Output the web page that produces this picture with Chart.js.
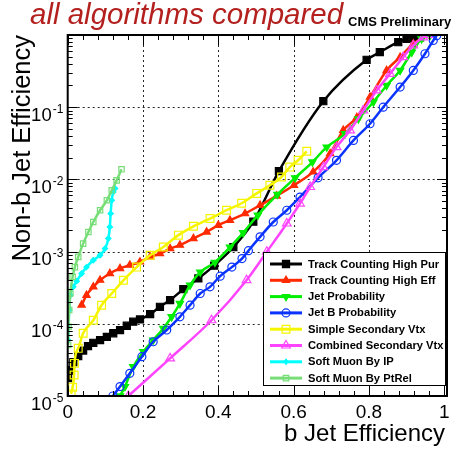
<!DOCTYPE html>
<html><head><meta charset="utf-8">
<script src="https://cdn.jsdelivr.net/npm/chart.js@4.4.0/dist/chart.umd.min.js"></script>
<style>html,body{margin:0;padding:0;background:#fff;}canvas{display:block;}</style>
</head><body>
<canvas id="c" width="458" height="450"></canvas>
<script>
// ---------- data ----------
const seriesLabels = ['Track Counting High Pur','Track Counting High Eff','Jet Probability','Jet B Probability','Simple Secondary Vtx','Combined Secondary Vtx','Soft Muon By IP','Soft Muon By PtRel'];

const tchpX = [0.001,0.006,0.015,0.028,0.041,0.054,0.068,0.086,0.104,0.121,0.139,0.157,0.174,0.192,0.219,0.245,0.272,0.307,0.347,0.389,0.440,0.493,0.561,0.679,0.794,0.829,0.878,0.900,0.918,0.936];
const tchpY = [1.77e-5,2.29e-5,2.95e-5,3.57e-5,4.26e-5,4.92e-5,5.46e-5,5.95e-5,6.6e-5,7.4e-5,8.2e-5,9.4e-5,1.07e-4,1.15e-4,1.36e-4,1.72e-4,2.13e-4,3.02e-4,4.25e-4,6.4e-4,1.15e-3,2.6e-3,1.3e-2,0.121,0.454,0.578,0.794,0.885,0.914,0.93];

const tcheX = [0.037,0.050,0.068,0.086,0.112,0.139,0.165,0.192,0.219,0.245,0.272,0.298,0.334,0.369,0.400,0.431,0.471,0.511,0.555,0.601,0.652,0.697,0.732,0.768,0.803,0.847,0.883,0.918,0.954];
const tcheY = [1.82e-4,2.49e-4,3.25e-4,4.02e-4,4.98e-4,5.84e-4,6.5e-4,7.2e-4,8.45e-4,9.4e-4,1.10e-3,1.23e-3,1.52e-3,1.87e-3,2.32e-3,2.72e-3,3.36e-3,4.39e-3,5.9e-3,8.3e-3,1.27e-2,2.28e-2,4.8e-2,7.2e-2,0.138,0.323,0.493,0.755,0.98];

const jpX = [0.139,0.152,0.174,0.201,0.227,0.254,0.276,0.298,0.325,0.352,0.391,0.431,0.466,0.505,0.557,0.604,0.650,0.688,0.737,0.772,0.812,0.847,0.883,0.914,0.940,0.962];
const jpY = [1.0e-5,1.35e-5,2.54e-5,4.1e-5,5.95e-5,8.6e-5,1.25e-4,1.91e-4,3.43e-4,5.2e-4,7.1e-4,1.15e-3,1.82e-3,3.2e-3,6.2e-3,1.05e-2,1.74e-2,2.8e-2,4.3e-2,6.9e-2,0.118,0.200,0.323,0.578,0.885,0.98];

const jbpX = [0.120,0.139,0.165,0.197,0.227,0.263,0.298,0.325,0.352,0.378,0.405,0.436,0.463,0.480,0.511,0.546,0.582,0.617,0.665,0.714,0.759,0.803,0.838,0.883,0.918,0.949,0.971,0.980];
const jbpY = [1.0e-5,1.35e-5,2.06e-5,3.5e-5,5.64e-5,8.2e-5,1.25e-4,1.81e-4,2.63e-4,3.25e-4,4.57e-4,6.1e-4,8.0e-4,1.03e-3,1.6e-3,2.57e-3,3.74e-3,5.7e-3,1.05e-2,1.84e-2,3.47e-2,5.9e-2,0.100,0.190,0.323,0.55,0.84,0.98];

const ssvX = [0.009,0.013,0.017,0.018,0.028,0.041,0.068,0.090,0.117,0.148,0.183,0.219,0.254,0.294,0.334,0.378,0.422,0.462,0.502,0.537,0.568,0.590,0.612,0.635];
const ssvY = [1.07e-5,1.32e-5,1.95e-5,2.83e-5,4.57e-5,7.4e-5,1.12e-4,1.81e-4,2.63e-4,4.0e-4,6.1e-4,8.9e-4,1.16e-3,1.69e-3,2.24e-3,2.87e-3,3.74e-3,4.67e-3,6.4e-3,8.3e-3,1.08e-2,1.48e-2,1.84e-2,2.45e-2];

const csvX = [0.161,0.272,0.382,0.475,0.529,0.582,0.617,0.644,0.679,0.714,0.750,0.785,0.821,0.856,0.891,0.918,0.944,0.957];
const csvY = [1.0e-5,3.32e-5,1.12e-4,4.02e-4,9.97e-4,2.45e-3,4.63e-3,7.85e-3,1.48e-2,2.8e-2,4.78e-2,9.0e-2,0.171,0.290,0.493,0.716,0.93,1.0];

const smipX = [0.001,0.004,0.007,0.015,0.024,0.037,0.050,0.068,0.086,0.099,0.108,0.112,0.114,0.117,0.121,0.126];
const smipY = [5.95e-5,1.55e-4,2.5e-4,3.25e-4,3.9e-4,4.98e-4,6.1e-4,7.6e-4,8.9e-4,1.10e-3,1.52e-3,2.2e-3,3.36e-3,5.14e-3,6.7e-3,7.5e-3];

const smptX = [0.001,0.002,0.004,0.007,0.013,0.019,0.028,0.041,0.055,0.068,0.086,0.104,0.117,0.130,0.143];
const smptY = [5.1e-5,9.1e-5,1.55e-4,2.63e-4,4.47e-4,6.1e-4,8.45e-4,1.29e-3,1.87e-3,2.57e-3,3.74e-3,5.14e-3,7.06e-3,9.7e-3,1.38e-2];

const xTickValues = [0,0.2,0.4,0.6,0.8,1];
const xTickLabels = ['0','0.2','0.4','0.6','0.8','1'];
const yTickValues = [1e-5,1e-4,1e-3,1e-2,1e-1];
const yTickBase = '10';
const yTickExponents = ['-5','-4','-3','-2','-1'];

const titleText = 'all algorithms compared';
const subTitleText = 'CMS Preliminary';
const xTitle = 'b Jet Efficiency';
const yTitle = 'Non-b Jet Efficiency';

// ---------- styles ----------
const seriesX = [tchpX,tcheX,jpX,jbpX,ssvX,csvX,smipX,smptX];
const seriesY = [tchpY,tcheY,jpY,jbpY,ssvY,csvY,smipY,smptY];
const styles = [
  {c:'#000000', ps:'rect', r:5, fill:true, rot:0, lw:2.5},
  {c:'#ff2a00', ps:'triangle', r:4.2, fill:true, rot:0, lw:2.5},
  {c:'#00ee00', ps:'triangle', r:4.2, fill:true, rot:180, lw:2.5},
  {c:'#0a33ff', ps:'circle', r:4, fill:false, rot:0, lw:2.5},
  {c:'#f5f500', ps:'rect', r:5.5, fill:false, rot:0, lw:2.5},
  {c:'#ff44ff', ps:'triangle', r:5, fill:false, rot:0, lw:2.5},
  {c:'#00ffff', ps:'rectRot', r:2.6, fill:true, rot:0, lw:2.5},
  {c:'#77dd77', ps:'rect', r:3.8, fill:false, rot:0, lw:2.5}
];

const datasets = seriesLabels.map((lab,i)=>({
  label: lab,
  data: seriesX[i].map((x,k)=>({x:x, y:seriesY[i][k]})),
  borderColor: styles[i].c,
  backgroundColor: styles[i].c,
  borderWidth: styles[i].lw,
  pointStyle: styles[i].ps,
  pointRadius: styles[i].r,
  pointRotation: styles[i].rot,
  pointBorderColor: styles[i].c,
  pointBackgroundColor: styles[i].fill ? styles[i].c : 'rgba(0,0,0,0)',
  pointBorderWidth: 1.2,
  tension: 0.3,
  cubicInterpolationMode: 'monotone',
  fill: false,
  order: 10 - i
}));

const FONT = '"Liberation Sans", Arial, Helvetica, sans-serif';

function drawMarker(ctx, st, x, y){
  ctx.save();
  ctx.strokeStyle = st.c; ctx.fillStyle = st.c; ctx.lineWidth = 1.2;
  ctx.beginPath();
  const r = st.r;
  if (st.ps==='rect'){ const s=Math.SQRT1_2*r; ctx.rect(x-s,y-s,2*s,2*s); }
  else if (st.ps==='circle'){ ctx.arc(x,y,r,0,Math.PI*2); }
  else if (st.ps==='rectRot'){ ctx.moveTo(x,y-r); ctx.lineTo(x+r*0.7,y); ctx.lineTo(x,y+r); ctx.lineTo(x-r*0.7,y); ctx.closePath(); }
  else if (st.ps==='triangle'){
    let a = st.rot*Math.PI/180;
    for (let k=0;k<3;k++){ const px=x+Math.sin(a)*r, py=y-Math.cos(a)*r; if(k===0)ctx.moveTo(px,py); else ctx.lineTo(px,py); a+=2*Math.PI/3; }
    ctx.closePath();
  }
  if (st.fill) ctx.fill();
  ctx.stroke();
  ctx.restore();
}

const decor = {
  id:'decor',
  beforeDatasetsDraw(chart){
    const {ctx, chartArea:a, scales:{x, y}} = chart;
    ctx.save();
    ctx.strokeStyle = 'rgba(0,0,0,0.85)'; ctx.lineWidth = 1; ctx.setLineDash([2,3]);
    xTickValues.forEach(v=>{ if(v<=0||v>=1) return; const px=Math.round(x.getPixelForValue(v))+0.5; ctx.beginPath(); ctx.moveTo(px,a.top); ctx.lineTo(px,a.bottom); ctx.stroke(); });
    yTickValues.forEach(v=>{ const py=Math.round(y.getPixelForValue(v))+0.5; if(py>a.bottom-2) return; ctx.beginPath(); ctx.moveTo(a.left,py); ctx.lineTo(a.right,py); ctx.stroke(); });
    ctx.restore();
  },
  afterDatasetsDraw(chart){
    const {ctx, chartArea:a, scales:{x, y}} = chart;
    ctx.save();
    // ticks inside
    ctx.strokeStyle='#000'; ctx.lineWidth=1; ctx.setLineDash([]);
    for (let k=0;k<=25;k++){
      const v=k*0.04; const px=Math.round(x.getPixelForValue(v))+0.5; if(px>a.right) continue;
      const L = (k%5===0)?10:5;
      ctx.beginPath(); ctx.moveTo(px,a.bottom); ctx.lineTo(px,a.bottom-L); ctx.moveTo(px,a.top); ctx.lineTo(px,a.top+L); ctx.stroke();
    }
    for (let e=-5;e<=0;e++){
      for (let m=1;m<=9;m++){
        const v=m*Math.pow(10,e); if(v>1.0001) continue;
        const py=Math.round(y.getPixelForValue(v))+0.5;
        const L=(m===1)?10:5;
        ctx.beginPath(); ctx.moveTo(a.left,py); ctx.lineTo(a.left+L,py); ctx.moveTo(a.right,py); ctx.lineTo(a.right-L,py); ctx.stroke();
      }
    }
    // frame
    ctx.lineWidth=2; ctx.strokeRect(a.left, a.top, a.right-a.left, a.bottom-a.top);

    // legend
    const lx=263, ly=252, lw=182, lh=133;
    ctx.fillStyle='#fff'; ctx.fillRect(lx,ly,lw,lh);
    ctx.lineWidth=1; ctx.strokeStyle='#000'; ctx.strokeRect(lx+0.5,ly+0.5,lw,lh);
    ctx.font='bold 11.2px '+FONT; ctx.textBaseline='middle'; ctx.textAlign='left';
    seriesLabels.forEach((lab,i)=>{
      const cy = 264 + i*16.3;
      ctx.strokeStyle=styles[i].c; ctx.lineWidth=3;
      ctx.beginPath(); ctx.moveTo(270,cy); ctx.lineTo(302,cy); ctx.stroke();
      drawMarker(ctx, styles[i], 286, cy);
      ctx.fillStyle='#000'; ctx.fillText(lab, 308, cy+0.5);
    });

    // y tick labels
    ctx.fillStyle='#000'; ctx.textBaseline='alphabetic';
    yTickValues.forEach((v,i)=>{
      const py=y.getPixelForValue(v);
      ctx.font='18.5px '+FONT; ctx.textAlign='right';
      ctx.fillText(yTickBase, 51.7, py+13.5);
      ctx.font='12px '+FONT; ctx.textAlign='left';
      ctx.fillText(yTickExponents[i], 52.7, py+5.5);
    });
    ctx.restore();

    // titles
    ctx.save();
    ctx.fillStyle='#000';
    ctx.font='24px '+FONT; ctx.textAlign='right'; ctx.textBaseline='alphabetic';
    ctx.fillText(xTitle, 445, 440.5);
    ctx.font='25.5px '+FONT;
    ctx.translate(30, a.top); ctx.rotate(-Math.PI/2);
    ctx.fillText(yTitle, 0, 0);
    ctx.restore();
    ctx.save();
    ctx.fillStyle='#b3201e'; ctx.font='italic 29.5px '+FONT; ctx.textAlign='left'; ctx.textBaseline='alphabetic';
    ctx.fillText(titleText, 30, 24);
    ctx.fillStyle='#000'; ctx.font='bold 13px '+FONT;
    ctx.fillText(subTitleText, 348, 26);
    ctx.restore();
  }
};

new Chart(document.getElementById('c'), {
  type:'line',
  data:{datasets},
  options:{
    responsive:false, animation:false, devicePixelRatio:1,
    layout:{padding:{top:35, right:11, left:0, bottom:0}},
    plugins:{legend:{display:false}, tooltip:{enabled:false}, title:{display:false}},
    scales:{
      x:{type:'linear', min:0, max:1.0075,
        afterBuildTicks(s){ s.ticks = xTickValues.map(v=>({value:v})); },
        afterFit(s){ s.height = 54; },
        grid:{display:false, drawTicks:false}, border:{display:false},
        ticks:{font:{family:FONT, size:19}, color:'#000', padding:5, maxRotation:0, autoSkip:false,
          callback:(v,i)=>xTickLabels[i]}
      },
      y:{type:'logarithmic', min:1e-5, max:1,
        afterBuildTicks(s){ s.ticks = yTickValues.map(v=>({value:v})); },
        afterFit(s){ s.width = 67.7; },
        grid:{display:false, drawTicks:false}, border:{display:false},
        ticks:{display:false}
      }
    }
  },
  plugins:[decor]
});
</script>
</body></html>
